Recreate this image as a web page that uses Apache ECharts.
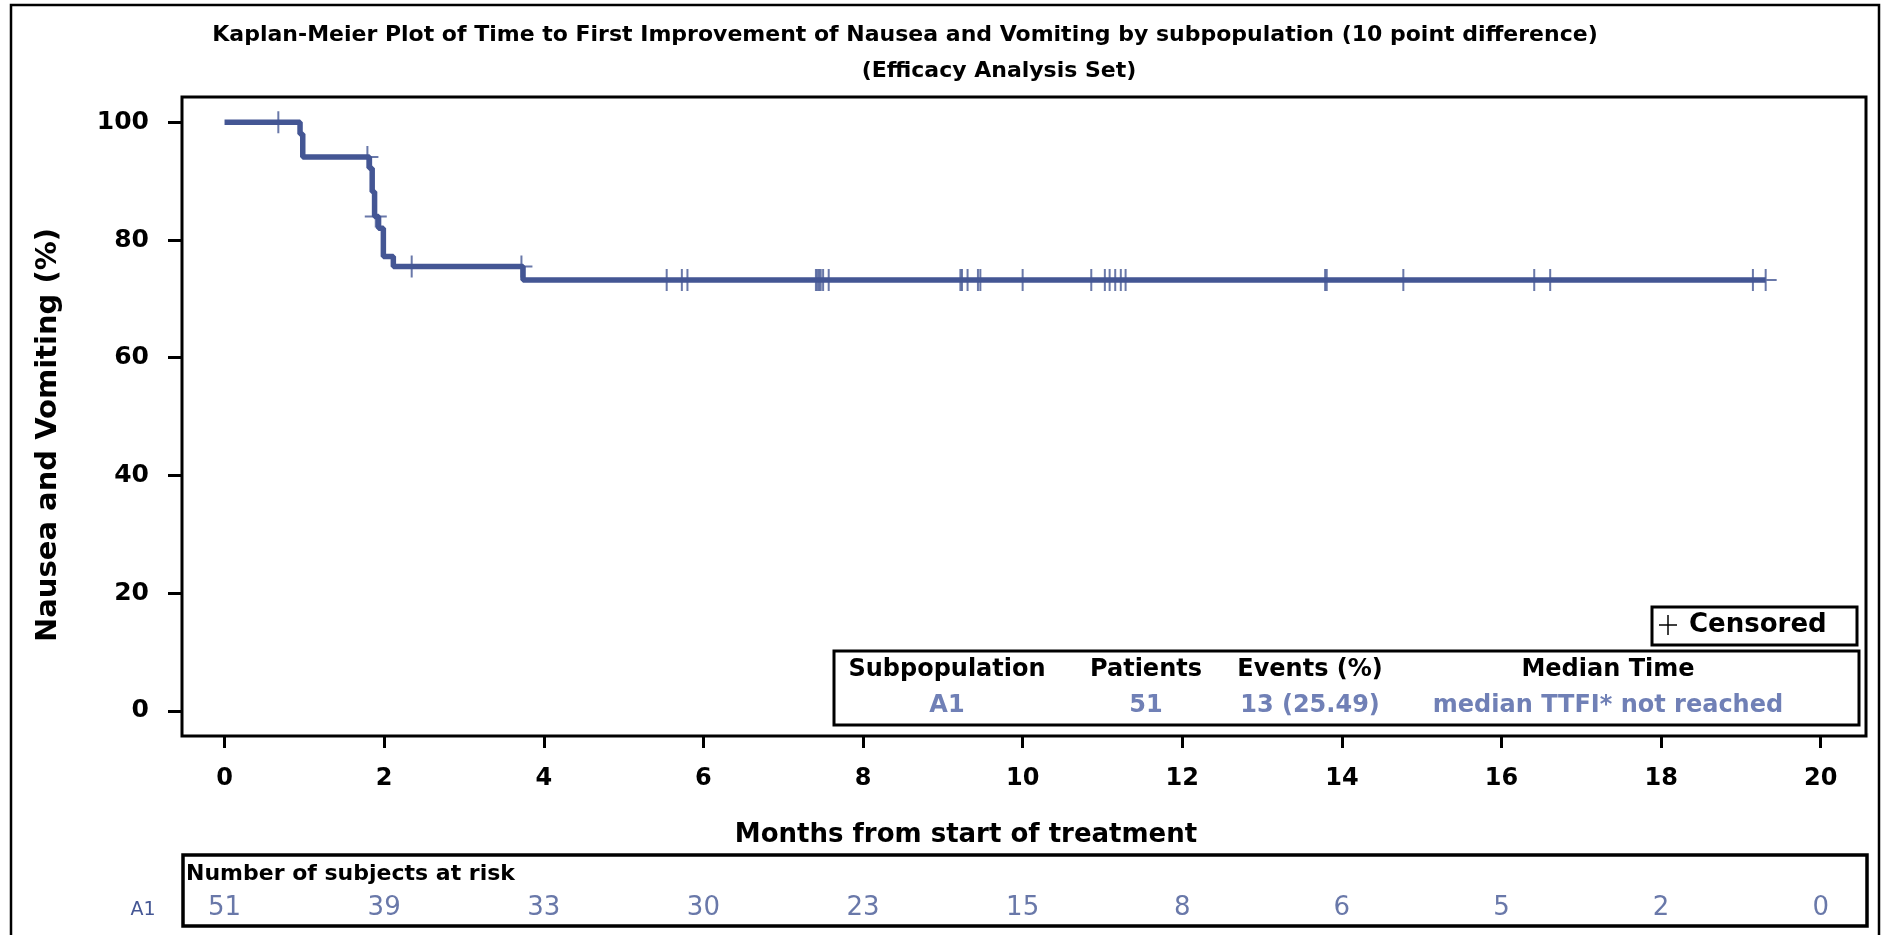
<!DOCTYPE html>
<html>
<head>
<meta charset="utf-8">
<script src="https://cdn.jsdelivr.net/npm/echarts@6/dist/echarts.min.js"></script>
<style>
html,body{margin:0;padding:0;background:#fff;}
#chart{width:1881px;height:935px;}
</style>
</head>
<body>
<div id="chart"></div>
<script>
// ---- data ----
const kmTimes = [0, 0.946, 0.98, 1.815, 1.85, 1.88, 1.93, 1.99, 2.115, 3.74, 19.31];
const kmSurv  = [100, 98.0, 94.1, 92.2, 88.2, 84.0, 82.0, 77.2, 75.5, 73.2, 73.2];
const censorTimes = [0.674, 1.79, 1.895, 2.345, 3.72, 5.54, 5.73, 5.80, 7.41, 7.43, 7.45, 7.47, 7.50, 7.57,
  9.22, 9.24, 9.31, 9.44, 9.47, 10.0, 10.86, 11.03, 11.09, 11.16, 11.23, 11.29,
  13.79, 13.81, 14.77, 16.41, 16.61, 19.15, 19.31];
const xTicks = [0, 2, 4, 6, 8, 10, 12, 14, 16, 18, 20];
const yTicks = [0, 20, 40, 60, 80, 100];
const atRisk = [51, 39, 33, 30, 23, 15, 8, 6, 5, 2, 0];
const statsHeader = ['Subpopulation', 'Patients', 'Events (%)', 'Median Time'];
const statsValues = ['A1', '51', '13 (25.49)', 'median TTFI* not reached'];
const titleLines = ['Kaplan-Meier Plot of Time to First Improvement of Nausea and Vomiting by subpopulation (10 point difference)', '(Efficacy Analysis Set)'];

// ---- build ----
const BLUE = '#445694';
const LIGHT = '#7080b6';
const FONT = 'DejaVu Sans';

function survAt(t) {
  let s = kmSurv[0];
  for (let i = 0; i < kmTimes.length; i++) { if (kmTimes[i] <= t) s = kmSurv[i]; }
  return s;
}
const kmData = kmTimes.map((t, i) => [t, kmSurv[i]]);
const censorData = censorTimes.map(t => [t, survAt(t)]);
const riskData = xTicks.map((t, i) => [t, 0, atRisk[i]]);

const PLUS = 'path://M-1,-11L1,-11L1,-1L11,-1L11,1L1,1L1,11L-1,11L-1,1L-11,1L-11,-1L-1,-1Z';

const XMIN = -0.533, XMAX = 20.567;
const chart = echarts.init(document.getElementById('chart'));

const statCenters = [947, 1146, 1310, 1608];
const graphics = [
  { type: 'rect', shape: { x: 11, y: 5, width: 1868, height: 1000 }, style: { fill: 'none', stroke: '#000', lineWidth: 2.5 }, silent: true },
  { type: 'text', x: 905, y: 35, style: { text: titleLines[0], font: 'bold 22px "DejaVu Sans"', fill: '#000', align: 'center', verticalAlign: 'middle' } },
  { type: 'text', x: 999, y: 71, style: { text: titleLines[1], font: 'bold 22px "DejaVu Sans"', fill: '#000', align: 'center', verticalAlign: 'middle' } },
  { type: 'text', x: 48, y: 435, rotation: Math.PI / 2, style: { text: 'Nausea and Vomiting (%)', font: 'bold 29px "DejaVu Sans"', fill: '#000', align: 'center', verticalAlign: 'middle' } },
  { type: 'text', x: 966, y: 835, style: { text: 'Months from start of treatment', font: 'bold 26px "DejaVu Sans"', fill: '#000', align: 'center', verticalAlign: 'middle' } },
  // legend box
  { type: 'rect', shape: { x: 1652, y: 607, width: 205, height: 38 }, style: { fill: '#fff', stroke: '#000', lineWidth: 3 }, z: 10 },
  { type: 'line', shape: { x1: 1659, y1: 625, x2: 1677, y2: 625 }, style: { stroke: '#000', lineWidth: 1.5 }, z: 11 },
  { type: 'line', shape: { x1: 1668, y1: 615, x2: 1668, y2: 635 }, style: { stroke: '#000', lineWidth: 1.5 }, z: 11 },
  { type: 'text', x: 1689, y: 625, style: { text: 'Censored', font: 'bold 26px "DejaVu Sans"', fill: '#000', align: 'left', verticalAlign: 'middle' }, z: 11 },
  // stats box
  { type: 'rect', shape: { x: 834, y: 651, width: 1025, height: 74 }, style: { fill: '#fff', stroke: '#000', lineWidth: 3 }, z: 10 },
  // at risk box
  { type: 'rect', shape: { x: 183, y: 855, width: 1684, height: 71 }, style: { fill: 'none', stroke: '#000', lineWidth: 3.5 }, z: 10 },
  { type: 'text', x: 186, y: 874, style: { text: 'Number of subjects at risk', font: 'bold 22px "DejaVu Sans"', fill: '#000', align: 'left', verticalAlign: 'middle' }, z: 11 },
  { type: 'text', x: 143, y: 910, style: { text: 'A1', font: '19px "DejaVu Sans"', fill: BLUE, align: 'center', verticalAlign: 'middle' }, z: 11 }
];
statsHeader.forEach((h, i) => graphics.push({ type: 'text', x: statCenters[i], y: 670, style: { text: h, font: 'bold 24px "DejaVu Sans"', fill: '#000', align: 'center', verticalAlign: 'middle' }, z: 11 }));
statsValues.forEach((v, i) => graphics.push({ type: 'text', x: statCenters[i], y: 706, style: { text: v, font: 'bold 24px "DejaVu Sans"', fill: LIGHT, align: 'center', verticalAlign: 'middle' }, z: 11 }));

chart.setOption({
  animation: false,
  backgroundColor: '#fff',
  textStyle: { fontFamily: FONT },
  grid: [
    { left: 182, top: 97, width: 1684, height: 639, show: true, borderColor: '#000', borderWidth: 3, containLabel: false },
    { left: 182, top: 890, width: 1684, height: 36, show: false, containLabel: false }
  ],
  xAxis: [
    { type: 'value', gridIndex: 0, min: XMIN, max: XMAX, position: 'bottom',
      axisLine: { show: false, onZero: false }, splitLine: { show: false },
      axisTick: { show: true, inside: false, length: 12, customValues: xTicks, lineStyle: { color: '#000', width: 3 } },
      axisLabel: { customValues: xTicks, margin: 31, color: '#000', fontSize: 24, fontWeight: 'bold', fontFamily: FONT } },
    { type: 'value', gridIndex: 1, min: XMIN, max: XMAX, show: false }
  ],
  yAxis: [
    { type: 'value', gridIndex: 0, min: -4.28, max: 104.3, position: 'left',
      axisLine: { show: false, onZero: false }, splitLine: { show: false },
      axisTick: { show: true, inside: false, length: 14, customValues: yTicks, lineStyle: { color: '#000', width: 3 } },
      axisLabel: { customValues: yTicks, margin: 33, color: '#000', fontSize: 25, fontWeight: 'bold', fontFamily: FONT } },
    { type: 'value', gridIndex: 1, min: -1, max: 1, show: false }
  ],
  series: [
    { type: 'line', xAxisIndex: 0, yAxisIndex: 0, data: kmData, step: 'end', showSymbol: false,
      lineStyle: { color: BLUE, width: 5.5 }, silent: true, z: 2 },
    { type: 'scatter', xAxisIndex: 0, yAxisIndex: 0, data: censorData, symbol: PLUS, symbolSize: [22, 22],
      itemStyle: { color: BLUE }, silent: true, z: 3 },
    { type: 'scatter', xAxisIndex: 1, yAxisIndex: 1, data: riskData, symbolSize: 0, silent: true,
      label: { show: true, position: 'inside', formatter: p => String(p.data[2]), color: BLUE, fontSize: 26, fontFamily: FONT } }
  ],
  graphic: graphics
});
</script>
</body>
</html>
